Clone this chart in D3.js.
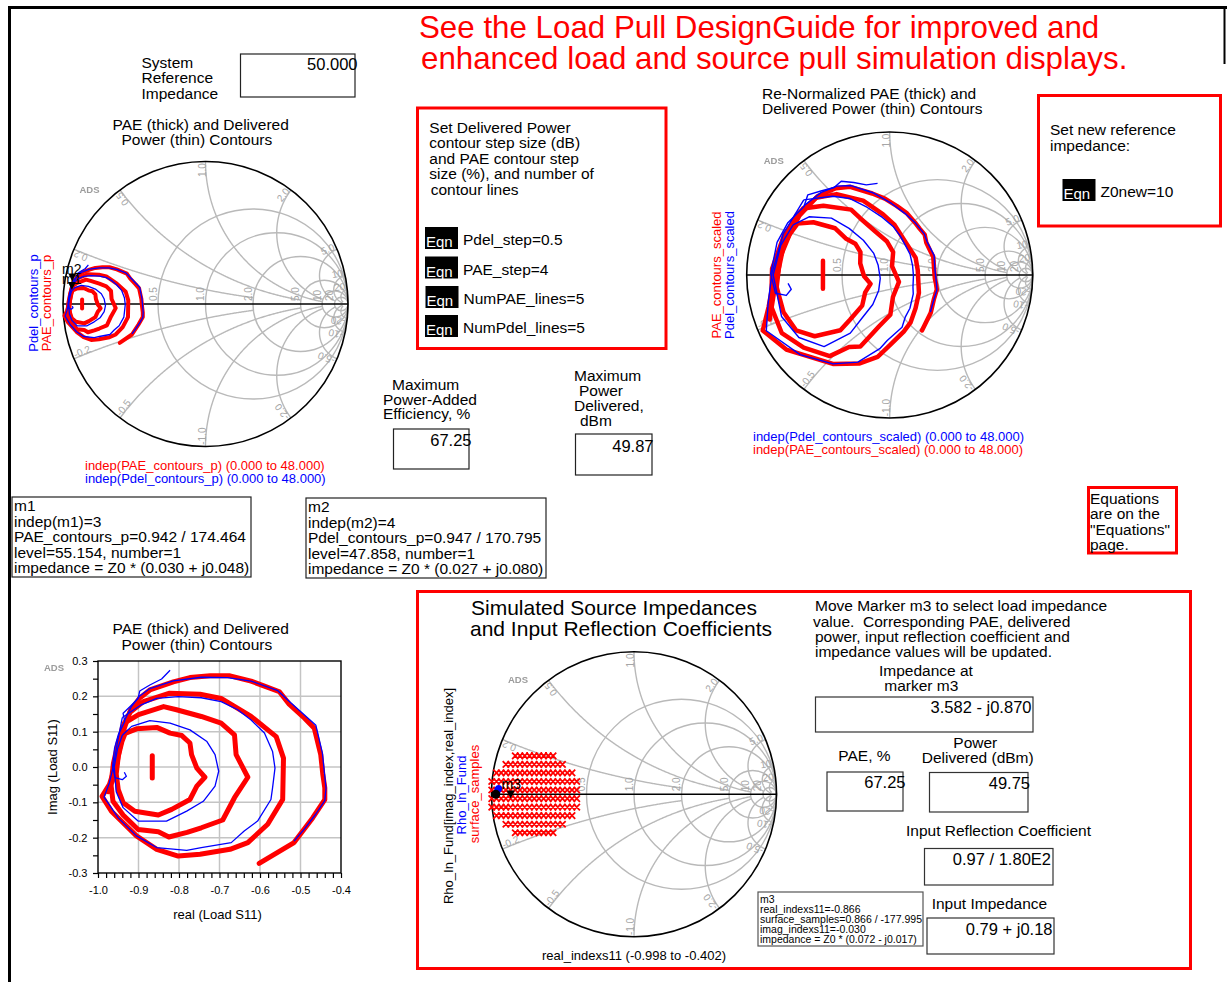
<!DOCTYPE html>
<html>
<head>
<meta charset="utf-8">
<title>Load Pull - PAE and Delivered Power Contours</title>
<script src="https://cdn.jsdelivr.net/npm/d3@7"></script>
<style>
  html, body { margin: 0; padding: 0; background: #fff; }
  svg { display: block; }
  text { font-family: "Liberation Sans", Arial, Helvetica, sans-serif; white-space: pre; }
</style>
</head>
<body>
<svg id="page" width="1227" height="982"></svg>
<script>
// ---------------- data ----------------
const systemZ0 = 50;   // system reference impedance, ohm
const newZ0 = 10;      // re-normalization impedance, ohm

// PAE contours (reflection coefficient, re / im), innermost first
const paeContour1 = [[-0.866, 0.032], [-0.866, -0.031]];
const paeContour2 = [[-0.933,0.095],[-0.905,0.108],[-0.855,0.112],[-0.822,0.096],[-0.793,0.089],[-0.773,0.068],[-0.769,0.035],[-0.756,-0.003],[-0.736,-0.029],[-0.756,-0.054],[-0.773,-0.092],[-0.818,-0.120],[-0.851,-0.136],[-0.909,-0.125],[-0.938,-0.101],[-0.950,-0.064],[-0.955,-0.020],[-0.950,0.030],[-0.941,0.072],[-0.933,0.095]];
const paeContour3 = [[-0.934,0.125],[-0.900,0.148],[-0.838,0.171],[-0.806,0.162],[-0.745,0.143],[-0.696,0.124],[-0.663,0.091],[-0.659,0.035],[-0.630,-0.029],[-0.663,-0.087],[-0.692,-0.150],[-0.745,-0.172],[-0.780,-0.185],[-0.825,-0.198],[-0.851,-0.183],[-0.901,-0.177],[-0.938,-0.136],[-0.963,-0.097],[-0.968,-0.050],[-0.962,0.010],[-0.950,0.070],[-0.934,0.125]];
const paeContour4 = [[-0.921,0.155],[-0.888,0.185],[-0.823,0.209],[-0.748,0.206],[-0.696,0.194],[-0.622,0.143],[-0.560,0.086],[-0.542,0.025],[-0.544,-0.092],[-0.581,-0.162],[-0.630,-0.214],[-0.674,-0.233],[-0.748,-0.247],[-0.802,-0.252],[-0.855,-0.233],[-0.905,-0.195],[-0.967,-0.125],[-0.990,-0.083],[-0.972,-0.050],[-0.958,0.000],[-0.950,0.060],[-0.940,0.110],[-0.921,0.155]];
const paeContour5 = [[-0.975,-0.070],[-0.958,-0.020],[-0.947,0.050],[-0.935,0.110],[-0.920,0.160],[-0.897,0.195],[-0.872,0.218],[-0.814,0.241],[-0.773,0.253],[-0.723,0.258],[-0.674,0.258],[-0.622,0.243],[-0.589,0.229],[-0.552,0.213],[-0.528,0.178],[-0.490,0.138],[-0.466,0.110],[-0.450,0.035],[-0.445,-0.020],[-0.440,-0.059],[-0.440,-0.092],[-0.470,-0.144],[-0.516,-0.214],[-0.602,-0.273]];

// Delivered power contours (reflection coefficient, re / im)
const pdelContour1 = [[-0.822,0.274],[-0.843,0.249],[-0.872,0.232],[-0.897,0.215],[-0.901,0.194],[-0.920,0.172],[-0.938,0.152],[-0.934,0.129],[-0.950,0.091],[-0.959,0.054],[-0.964,0.002],[-0.958,-0.030],[-0.940,-0.036],[-0.930,-0.026],[-0.935,-0.015]];
const pdelContour2 = [[-0.940,0.090],[-0.917,0.115],[-0.872,0.131],[-0.822,0.124],[-0.773,0.105],[-0.731,0.072],[-0.711,0.035],[-0.702,-0.012],[-0.711,-0.054],[-0.740,-0.097],[-0.781,-0.125],[-0.831,-0.153],[-0.901,-0.153],[-0.938,-0.115],[-0.955,-0.070],[-0.960,0.000],[-0.952,0.050],[-0.940,0.090]];
const pdelContour3 = [[-0.940,0.140],[-0.893,0.176],[-0.855,0.194],[-0.802,0.199],[-0.745,0.196],[-0.696,0.185],[-0.655,0.162],[-0.622,0.133],[-0.589,0.096],[-0.569,0.044],[-0.563,-0.003],[-0.569,-0.059],[-0.573,-0.092],[-0.606,-0.153],[-0.639,-0.181],[-0.671,-0.214],[-0.745,-0.228],[-0.781,-0.236],[-0.855,-0.228],[-0.905,-0.195],[-0.950,-0.144],[-0.985,-0.085],[-0.972,-0.045],[-0.962,0.003],[-0.952,0.070],[-0.940,0.140]];
const pdelContour4 = [[-0.935,0.130],[-0.918,0.170],[-0.898,0.200],[-0.872,0.222],[-0.814,0.244],[-0.745,0.254],[-0.680,0.253],[-0.622,0.243],[-0.556,0.216],[-0.524,0.182],[-0.462,0.118],[-0.446,0.040],[-0.437,-0.060],[-0.440,-0.095],[-0.462,-0.133],[-0.490,-0.175],[-0.516,-0.210]];

// markers (magnitude / angle in degrees)
const markerM1 = { name: "m1", mag: 0.942, ang: 174.464 };
const markerM2 = { name: "m2", mag: 0.947, ang: 170.795 };
const markerM3 = { name: "m3", mag: 0.866, ang: -177.995 };
const rhoInAtMarker = { mag: 0.97, ang: 180 };
const rhoInFund = [[-0.950, 0.040], [-0.956, 0.032]];

// source-pull surface samples
const realIndexs11 = [-0.998,-0.965,-0.932,-0.899,-0.866,-0.833,-0.800,-0.767,-0.733,-0.700,-0.667,-0.634,-0.601,-0.568,-0.535,-0.502,-0.468,-0.435,-0.402];
const imagIndexs11 = [0.27, 0.21, 0.15, 0.09, 0.03, -0.03, -0.09, -0.15, -0.21, -0.27];
const rowFirst = [5, 3, 1, 0, 0, 0, 0, 1, 3, 5];
const rowLast  = [13, 15, 17, 18, 18, 18, 18, 17, 15, 13];

// Smith chart grid
const smithR = [0.5, 1, 2, 5, 10, 20];
const smithRLabels = ["0.5", "1.0", "2.0", "5.0", "10", "20"];
const smithX = [0.2, 0.5, 1, 2, 5, 10, 20];
const smithXLabels = ["0.2", "0.5", "1.0", "2.0", "5.0", "10", "20"];
const smithXrMax = [2, 5, 10, 10, 20, 50, 50];

// rectangular plot ticks
const rectXTicks = [-1.0, -0.9, -0.8, -0.7, -0.6, -0.5, -0.4];
const rectYTicks = [-0.3, -0.2, -0.1, 0.0, 0.1, 0.2, 0.3];
const rectXMinor = d3.range(0, 31).map(i => -1.0 + i * 0.02);
const rectYMinor = d3.range(0, 13).map(i => -0.3 + i * 0.05);

// ---------------- helpers ----------------
const svg = d3.select("#page");
const RED = "#ff0000", BLUE = "#0000ff", GRID = "#b9b9b9", LABEL_GRAY = "#a6a6a6";
const paeContours = [paeContour1, paeContour2, paeContour3, paeContour4, paeContour5];
const pdelContours = [pdelContour1, pdelContour2, pdelContour3, pdelContour4];

const defs = svg.append("defs");
defs.append("filter").attr("id", "soft").append("feGaussianBlur").attr("stdDeviation", 0.7);

function polar(m) {
  const a = m.ang * Math.PI / 180;
  return [m.mag * Math.cos(a), m.mag * Math.sin(a)];
}
function gammaOf(r, x) {            // (z-1)/(z+1), z = r + jx
  const ar = r - 1, ai = x, br = r + 1, bi = x, d = br * br + bi * bi;
  return [(ar * br + ai * bi) / d, (ai * br - ar * bi) / d];
}
function renorm([re, im]) {          // reflection coefficient referred to newZ0
  const nr = 1 + re, ni = im, dr = 1 - re, di = -im, den = dr * dr + di * di;
  const k = systemZ0 / newZ0;
  const zr = k * (nr * dr + ni * di) / den, zi = k * (ni * dr - nr * di) / den;
  return gammaOf(zr, zi);
}

function text(parent, x, y, str, o = {}) {
  const t = parent.append("text")
    .attr("x", x).attr("y", y)
    .attr("font-size", o.size || 15.5)
    .attr("fill", o.fill || "#000")
    .attr("text-anchor", o.anchor || "start")
    .text(str);
  if (o.weight) t.attr("font-weight", o.weight);
  return t;
}
function vtext(parent, cx, cy, str, size, fill) {   // vertical text reading upward
  return parent.append("text")
    .attr("transform", `translate(${cx + size * 0.36},${cy}) rotate(-90)`)
    .attr("text-anchor", "middle").attr("font-size", size).attr("fill", fill).text(str);
}
function box(parent, x0, y0, x1, y1, stroke, w) {
  return parent.append("rect").attr("x", x0).attr("y", y0)
    .attr("width", x1 - x0).attr("height", y1 - y0)
    .attr("fill", "none").attr("stroke", stroke).attr("stroke-width", w);
}
function adsMark(parent, x, y) {
  text(parent, x, y, "ADS", { size: 9.5, fill: "#9c9c9c", weight: "bold", anchor: "middle" })
    .attr("filter", "url(#soft)");
}
function eqn(parent, x, y, label) {
  parent.append("rect").attr("x", x).attr("y", y).attr("width", 33).attr("height", 22).attr("fill", "#000");
  text(parent, x + 1, y + 20, "Eqn", { size: 15, fill: "#fff" });
  text(parent, x + 38, y + 18, label, { size: 15.5 });
}

// ---------------- Smith chart ----------------
function drawSmith(cx, cy, R) {
  const g = svg.append("g");
  const sx = d3.scaleLinear().domain([-1, 1]).range([cx - R, cx + R]);
  const sy = d3.scaleLinear().domain([-1, 1]).range([cy + R, cy - R]);
  const unit = sx(1) - sx(0);
  const line = d3.line().x(d => sx(d[0])).y(d => sy(d[1]));

  const grid = g.append("g").attr("fill", "none").attr("stroke", GRID).attr("stroke-width", 1.4);
  smithR.forEach(r => {
    grid.append("circle").attr("cx", sx(r / (1 + r))).attr("cy", sy(0)).attr("r", unit / (1 + r));
  });
  smithX.forEach((x, i) => {
    [x, -x].forEach(xx => {
      const tMax = smithXrMax[i] / (1 + smithXrMax[i]);
      const pts = d3.range(0, 301).map(k => {
        const t = tMax * k / 300;
        return gammaOf(t / (1 - t), xx);
      });
      grid.append("path").attr("d", line(pts));
    });
  });

  const lab = g.append("g").attr("font-size", 10).attr("fill", LABEL_GRAY);
  smithR.forEach((r, i) => {
    const xl = sx((r - 1) / (r + 1));
    lab.append("text").attr("transform", `translate(${xl - 1.5},${sy(0) - 3}) rotate(-90)`)
      .text(smithRLabels[i]);
  });
  smithX.forEach((x, i) => {
    [1, -1].forEach(sgn => {
      const [gr, gi] = gammaOf(0, sgn * x);
      const theta = Math.atan2(gi, gr) * 180 / Math.PI;
      const up = theta > 0;
      lab.append("text")
        .attr("transform", `translate(${sx(gr * 0.988)},${sy(gi * 0.988)}) rotate(${up ? -theta : -theta - 180})`)
        .attr("text-anchor", up ? "end" : "start")
        .text((sgn < 0 ? "-" : "") + smithXLabels[i]);
    });
  });

  g.append("circle").attr("cx", sx(0)).attr("cy", sy(0)).attr("r", unit)
    .attr("fill", "none").attr("stroke", "#000").attr("stroke-width", 1.6);
  g.append("line").attr("x1", sx(-1)).attr("x2", sx(1)).attr("y1", sy(0)).attr("y2", sy(0))
    .attr("stroke", "#000").attr("stroke-width", 1.6);
  adsMark(g, cx - 116, cy - 111);
  return { g, sx, sy, line };
}

function drawContours(chart, mapFn, redW, blueW) {
  const pts = c => c.map(mapFn);
  chart.g.append("g").selectAll("path").data(paeContours).join("path")
    .attr("d", d => chart.line(pts(d))).attr("fill", "none").attr("stroke", RED)
    .attr("stroke-width", redW).attr("stroke-linejoin", "round").attr("stroke-linecap", "round");
  chart.g.append("g").selectAll("path").data(pdelContours).join("path")
    .attr("d", d => chart.line(pts(d))).attr("fill", "none").attr("stroke", BLUE)
    .attr("stroke-width", blueW).attr("stroke-linejoin", "round");
}

function markerTri(g, x, y) {
  g.append("path").attr("d", `M${x - 4},${y - 8}L${x + 4},${y - 8}L${x},${y}Z`).attr("fill", "#000");
}

// ---------------- page frame ----------------
svg.append("line").attr("x1", 8).attr("x2", 1227).attr("y1", 7.5).attr("y2", 7.5).attr("stroke", "#000").attr("stroke-width", 3);
svg.append("line").attr("x1", 9.5).attr("x2", 9.5).attr("y1", 6).attr("y2", 982).attr("stroke", "#000").attr("stroke-width", 3);
svg.append("line").attr("x1", 1224.5).attr("x2", 1224.5).attr("y1", 6).attr("y2", 64).attr("stroke", "#000").attr("stroke-width", 2);

text(svg, 419, 38, "See the Load Pull DesignGuide for improved and", { size: 31.3, fill: RED });
text(svg, 421, 69, "enhanced load and source pull simulation displays.", { size: 31.3, fill: RED });

// system reference impedance
text(svg, 141.5, 68, "System");
text(svg, 141.5, 83, "Reference");
text(svg, 141.5, 98.5, "Impedance");
box(svg, 240.5, 54, 355, 97, "#222", 1.2);
text(svg, 357.5, 70, "50.000", { size: 16.5, anchor: "end" });

// ---------------- top-left Smith chart (system Z0) ----------------
text(svg, 112.5, 130, "PAE (thick) and Delivered");
text(svg, 121.5, 145, "Power (thin) Contours");
const smithA = drawSmith(205.5, 304, 142.5);
drawContours(smithA, d => d, 4, 1.3);
[markerM2, markerM1].forEach(m => {
  const [gr, gi] = polar(m);
  markerTri(smithA.g, smithA.sx(gr), smithA.sy(gi) - 1);
});
text(svg, 62, 283.5, markerM1.name, { size: 14 });
text(svg, 62, 273.5, markerM2.name, { size: 14 });
vtext(svg, 33, 303, "Pdel_contours_p", 13, BLUE);
vtext(svg, 46, 303, "PAE_contours_p", 13, RED);
text(svg, 85, 469.5, "indep(PAE_contours_p) (0.000 to 48.000)", { size: 13, fill: RED });
text(svg, 85, 482.5, "indep(Pdel_contours_p) (0.000 to 48.000)", { size: 13, fill: BLUE });

// ---------------- contour setting box ----------------
box(svg, 417.5, 108, 666, 348.5, RED, 3);
[["Set Delivered Power", 429.3, 133], ["contour step size (dB)", 429.3, 148.3], ["and PAE contour step", 429.3, 163.8],
 ["size (%), and number of", 429.3, 179], ["contour lines", 430.7, 194.5]]
  .forEach(([s, x, y]) => text(svg, x, y, s));
eqn(svg, 425, 227, "Pdel_step=0.5");
eqn(svg, 425, 256.5, "PAE_step=4");
eqn(svg, 425.5, 286, "NumPAE_lines=5");
eqn(svg, 425, 315, "NumPdel_lines=5");

// ---------------- maxima ----------------
text(svg, 392, 389.5, "Maximum");
text(svg, 383, 404.5, "Power-Added");
text(svg, 383, 419, "Efficiency, %");
box(svg, 393.5, 429, 469, 469, "#222", 1.2);
text(svg, 471.5, 446, "67.25", { size: 16.5, anchor: "end" });

text(svg, 574, 380.5, "Maximum");
text(svg, 579, 395.5, "Power");
text(svg, 574, 410.5, "Delivered,");
text(svg, 580, 425.5, "dBm");
box(svg, 575.5, 434, 652, 475, "#222", 1.2);
text(svg, 653.5, 452, "49.87", { size: 16.5, anchor: "end" });

// ---------------- top-right Smith chart (re-normalized) ----------------
text(svg, 762, 98.5, "Re-Normalized PAE (thick) and");
text(svg, 762, 113.5, "Delivered Power (thin) Contours");
const smithB = drawSmith(889.7, 275, 143);
drawContours(smithB, renorm, 4.5, 1.4);
vtext(svg, 716, 275, "PAE_contours_scaled", 13, RED);
vtext(svg, 729, 275, "Pdel_contours_scaled", 13, BLUE);
text(svg, 753, 440.5, "indep(Pdel_contours_scaled) (0.000 to 48.000)", { size: 13, fill: BLUE });
text(svg, 753, 453.5, "indep(PAE_contours_scaled) (0.000 to 48.000)", { size: 13, fill: RED });

box(svg, 1038.5, 95.5, 1220.5, 226, RED, 3);
text(svg, 1050, 134.5, "Set new reference");
text(svg, 1050, 150.5, "impedance:");
eqn(svg, 1062.5, 179, "Z0new=" + newZ0);

box(svg, 1088.5, 487.5, 1176.5, 553, RED, 3);
[["Equations", 503.5], ["are on the", 518.5], ["\"Equations\"", 534.5], ["page.", 549.5]]
  .forEach(([s, y]) => text(svg, 1090, y, s));

// ---------------- marker readouts ----------------
box(svg, 12, 497, 251, 577, "#222", 1.2);
["m1", "indep(m1)=3", "PAE_contours_p=0.942 / 174.464", "level=55.154, number=1", "impedance = Z0 * (0.030 + j0.048)"]
  .forEach((s, i) => text(svg, 14, 511 + i * 15.5, s));
box(svg, 306, 498, 546, 578, "#222", 1.2);
["m2", "indep(m2)=4", "Pdel_contours_p=0.947 / 170.795", "level=47.858, number=1", "impedance = Z0 * (0.027 + j0.080)"]
  .forEach((s, i) => text(svg, 308, 512 + i * 15.5, s));

// ---------------- rectangular contour plot ----------------
text(svg, 112.5, 634, "PAE (thick) and Delivered");
text(svg, 121.5, 649.5, "Power (thin) Contours");
const rx = d3.scaleLinear().domain([-1.0, -0.4]).range([98, 341]);
const ry = d3.scaleLinear().domain([-0.3, 0.3]).range([873, 661]);
const rect = svg.append("g");
rect.append("g").selectAll("line").data(rectXTicks.slice(1, -1)).join("line")
  .attr("x1", d => rx(d)).attr("x2", d => rx(d)).attr("y1", ry(-0.3)).attr("y2", ry(0.3))
  .attr("stroke", "#c4c4c4").attr("stroke-width", 1.5);
rect.append("g").selectAll("line").data(rectYTicks.slice(1, -1)).join("line")
  .attr("y1", d => ry(d)).attr("y2", d => ry(d)).attr("x1", rx(-1.0)).attr("x2", rx(-0.4))
  .attr("stroke", "#c4c4c4").attr("stroke-width", 1.5);
const fmt = d => d.toFixed(1);
const axMinorX = rect.append("g").attr("transform", `translate(0,${ry(-0.3)})`)
  .call(d3.axisBottom(rx).tickValues(rectXMinor).tickSize(5).tickFormat(""));
const axMinorY = rect.append("g").attr("transform", `translate(${rx(-1.0)},0)`)
  .call(d3.axisLeft(ry).tickValues(rectYMinor).tickSize(5).tickFormat(""));
const axX = rect.append("g").attr("transform", `translate(0,${ry(-0.3)})`)
  .call(d3.axisBottom(rx).tickValues(rectXTicks).tickSize(0).tickPadding(13.5).tickFormat(fmt));
const axY = rect.append("g").attr("transform", `translate(${rx(-1.0)},0)`)
  .call(d3.axisLeft(ry).tickValues(rectYTicks).tickSize(0).tickPadding(10.5).tickFormat(fmt));
[axMinorX, axMinorY, axX, axY].forEach(a => {
  a.select(".domain").remove();
  a.selectAll("line").attr("stroke", "#000").attr("stroke-width", 1.2);
  a.selectAll("text").attr("font-size", 11).attr("font-family", '"Liberation Sans", Arial, sans-serif').attr("fill", "#000");
});
rect.append("rect").attr("x", rx(-1.0)).attr("y", ry(0.3)).attr("width", rx(-0.4) - rx(-1.0)).attr("height", ry(-0.3) - ry(0.3))
  .attr("fill", "none").attr("stroke", "#000").attr("stroke-width", 1.4);
const rline = d3.line().x(d => rx(d[0])).y(d => ry(d[1]));
rect.append("g").selectAll("path").data(paeContours).join("path")
  .attr("d", rline).attr("fill", "none").attr("stroke", RED).attr("stroke-width", 5)
  .attr("stroke-linejoin", "round").attr("stroke-linecap", "round");
rect.append("g").selectAll("path").data(pdelContours).join("path")
  .attr("d", rline).attr("fill", "none").attr("stroke", BLUE).attr("stroke-width", 1.3).attr("stroke-linejoin", "round");
adsMark(svg, 54, 671);
text(svg, 217.5, 918.5, "real (Load S11)", { size: 13, anchor: "middle" });
svg.append("text").attr("transform", "translate(57,767) rotate(-90)").attr("text-anchor", "middle")
  .attr("font-size", 13).text("Imag (Load S11)");

// ---------------- source impedance panel ----------------
box(svg, 417.5, 591.5, 1190.5, 968.5, RED, 3);
text(svg, 471, 614.5, "Simulated Source Impedances", { size: 21 });
text(svg, 470, 635.5, "and Input Reflection Coefficients", { size: 21 });

const smithC = drawSmith(634, 794.3, 142.5);
const samples = [];
imagIndexs11.forEach((im, i) => {
  for (let k = rowFirst[i]; k <= rowLast[i]; k++) samples.push([realIndexs11[k], im]);
});
smithC.g.append("path")
  .attr("d", samples.map(([re, im]) => {
    const x = smithC.sx(re), y = smithC.sy(im), s = 3.2;
    return `M${x - s},${y - s}L${x + s},${y + s}M${x - s},${y + s}L${x + s},${y - s}`;
  }).join(""))
  .attr("stroke", RED).attr("stroke-width", 1.8).attr("fill", "none");
smithC.g.selectAll("circle.rho").data(rhoInFund).join("circle").attr("class", "rho")
  .attr("cx", d => smithC.sx(d[0])).attr("cy", d => smithC.sy(d[1])).attr("r", 3.5).attr("fill", BLUE);
const rhoM = polar(rhoInAtMarker);
smithC.g.append("circle").attr("cx", smithC.sx(rhoM[0])).attr("cy", smithC.sy(rhoM[1])).attr("r", 4.5).attr("fill", "#000");
const m3 = polar(markerM3);
markerTri(smithC.g, smithC.sx(m3[0]), smithC.sy(m3[1]));
text(svg, 501.5, 789, markerM3.name, { size: 14 });

vtext(svg, 448.5, 796, "Rho_In_Fund[imag_index,real_index]", 13, "#000");
vtext(svg, 461.5, 795, "Rho_In_Fund", 13, BLUE);
vtext(svg, 474.5, 794, "surface_samples", 13, RED);
text(svg, 634, 959.5, "real_indexs11 (-0.998 to -0.402)", { size: 13, anchor: "middle" });

box(svg, 758, 892, 923, 946, "#555", 1.2);
["m3", "real_indexs11=-0.866", "surface_samples=0.866 / -177.995", "imag_indexs11=-0.030", "impedance = Z0 * (0.072 - j0.017)"]
  .forEach((s, i) => text(svg, 760, 903 + i * 10, s, { size: 10.5 }));

text(svg, 815, 611, "Move Marker m3 to select load impedance");
text(svg, 813, 626.5, "value.  Corresponding PAE, delivered");
text(svg, 815, 642, "power, input reflection coefficient and");
text(svg, 815, 657, "impedance values will be updated.");
text(svg, 879, 676, "Impedance at");
text(svg, 884.3, 691, "marker m3");
box(svg, 815.5, 697, 1033, 732, "#333", 1.2);
text(svg, 1031.5, 713, "3.582 - j0.870", { size: 16.5, anchor: "end" });
text(svg, 838.3, 761, "PAE, %");
text(svg, 953.3, 748, "Power");
text(svg, 921.7, 763, "Delivered (dBm)");
box(svg, 827, 772, 903, 811, "#333", 1.2);
text(svg, 905.5, 787.5, "67.25", { size: 16.5, anchor: "end" });
box(svg, 929.5, 772.5, 1028, 812, "#333", 1.2);
text(svg, 1030, 788.5, "49.75", { size: 16.5, anchor: "end" });
text(svg, 906, 836, "Input Reflection Coefficient");
box(svg, 924.5, 848.5, 1053, 885, "#333", 1.2);
text(svg, 1051, 865, "0.97 / 1.80E2", { size: 16.5, anchor: "end" });
text(svg, 931.7, 908.5, "Input Impedance");
box(svg, 927, 918, 1054, 954, "#333", 1.2);
text(svg, 1052.5, 935, "0.79 + j0.18", { size: 16.5, anchor: "end" });
</script>
</body>
</html>
